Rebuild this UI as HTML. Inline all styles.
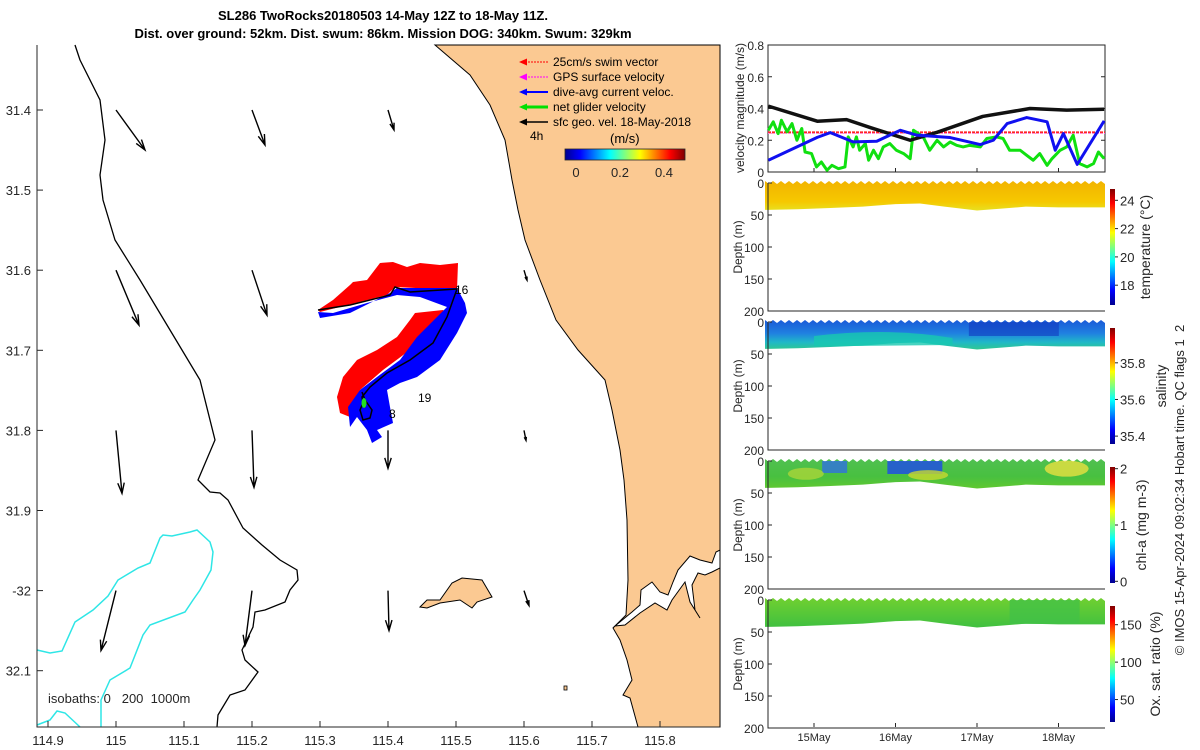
<!DOCTYPE html>
<html><head><meta charset="utf-8"><style>
body{margin:0;background:#fff;}
svg{display:block;font-family:"Liberation Sans","DejaVu Sans",sans-serif;}
</style></head><body>
<svg id="s" width="1200" height="750" viewBox="0 0 1200 750">
<defs>
<linearGradient id="jetV" x1="0" y1="0" x2="1" y2="0">
<stop offset="0" stop-color="#00008f"/><stop offset="0.125" stop-color="#0000ff"/><stop offset="0.375" stop-color="#00ffff"/><stop offset="0.625" stop-color="#ffff00"/><stop offset="0.875" stop-color="#ff0000"/><stop offset="1" stop-color="#800000"/></linearGradient>
<linearGradient id="jetH" x1="0" y1="1" x2="0" y2="0">
<stop offset="0" stop-color="#00008f"/><stop offset="0.125" stop-color="#0000ff"/><stop offset="0.375" stop-color="#00ffff"/><stop offset="0.625" stop-color="#ffff00"/><stop offset="0.875" stop-color="#ff0000"/><stop offset="1" stop-color="#800000"/></linearGradient>
<linearGradient id="gT" x1="0" y1="0" x2="0" y2="1"><stop offset="0" stop-color="#f2b400"/><stop offset="0.7" stop-color="#f6c800"/><stop offset="1" stop-color="#e8e020"/></linearGradient>
<linearGradient id="gS" x1="0" y1="0" x2="0" y2="1"><stop offset="0" stop-color="#1a5ad8"/><stop offset="0.45" stop-color="#2080e0"/><stop offset="0.75" stop-color="#20b8c8"/><stop offset="1" stop-color="#30c890"/></linearGradient>
<linearGradient id="gC" x1="0" y1="0" x2="0" y2="1"><stop offset="0" stop-color="#50c050"/><stop offset="0.6" stop-color="#48c040"/><stop offset="1" stop-color="#60c830"/></linearGradient>
<linearGradient id="gO" x1="0" y1="0" x2="0" y2="1"><stop offset="0" stop-color="#70d030"/><stop offset="1" stop-color="#40c040"/></linearGradient>
</defs>
<g id="map"></g>
<g id="right"></g>
<text x="383" y="20" text-anchor="middle" font-size="13" font-weight="bold">SL286 TwoRocks20180503 14-May 12Z to 18-May 11Z.</text>
<text x="383" y="38" text-anchor="middle" font-size="13" font-weight="bold">Dist. over ground: 52km. Dist. swum: 86km. Mission DOG: 340km. Swum: 329km</text>
</svg>
<script>
// ---- map data ----
const lonTicks=[114.9,115,115.1,115.2,115.3,115.4,115.5,115.6,115.7,115.8];
const latTicks=[31.4,31.5,31.6,31.7,31.8,31.9,32.0,32.1];
const latLabels=["31.4","31.5","31.6","31.7","31.8","31.9","-32","32.1"];
const arrowLon=[115.0,115.2,115.4,115.0,115.2,115.6,115.0,115.2,115.4,115.6,115.0,115.2,115.4,115.6];
const arrowLat=[31.4,31.4,31.4,31.6,31.6,31.6,31.8,31.8,31.8,31.8,32.0,32.0,32.0,32.0];
const arrowU=[0.145,0.065,0.03,0.115,0.075,0.015,0.03,0.01,0,0.01,-0.075,-0.035,0.005,0.025];
const arrowV=[-0.2,-0.175,-0.1,-0.275,-0.225,-0.05,-0.315,-0.285,-0.19,-0.05,-0.3,-0.275,-0.2,-0.075];
// ---- velocity panel data ----
const velTicks=[0,0.2,0.4,0.6,0.8];
const dayTicks=[15,16,17,18];
const dayLabels=["15May","16May","17May","18May"];
const blackT=[14.44,15.04,15.40,15.69,16.18,16.51,17.07,17.65,18.10,18.56];
const blackV=[0.415,0.32,0.33,0.28,0.20,0.25,0.35,0.40,0.39,0.395];
const blueT=[14.44,15.04,15.20,15.48,15.77,16.06,16.26,16.67,17.04,17.20,17.37,17.61,17.86,17.96,18.06,18.23,18.56];
const blueV=[0.074,0.218,0.248,0.19,0.194,0.263,0.232,0.217,0.173,0.2,0.305,0.343,0.316,0.137,0.242,0.048,0.322];
const greenT=[14.44,14.50,14.56,14.60,14.67,14.73,14.79,14.85,14.89,14.97,15.03,15.09,15.16,15.22,15.30,15.38,15.42,15.48,15.52,15.56,15.63,15.67,15.73,15.79,15.85,15.93,16.01,16.10,16.18,16.22,16.34,16.42,16.51,16.59,16.67,16.75,16.83,16.91,17.04,17.12,17.24,17.32,17.40,17.53,17.61,17.69,17.77,17.86,17.92,18.02,18.10,18.18,18.26,18.35,18.43,18.49,18.56];
const greenV=[0.263,0.316,0.242,0.326,0.253,0.305,0.2,0.274,0.126,0.116,0.032,0.063,0.011,0.042,0.021,0.032,0.221,0.158,0.221,0.137,0.179,0.074,0.137,0.084,0.158,0.179,0.137,0.116,0.084,0.263,0.221,0.137,0.2,0.158,0.189,0.168,0.158,0.168,0.158,0.211,0.221,0.211,0.137,0.137,0.105,0.074,0.116,0.042,0.084,0.137,0.158,0.232,0.053,0.032,0.053,0.126,0.084];
const swimRef=[0.25];
// ---- section data ----
const depthTicks=[0,50,100,150,200];
const mldT=[14.44,14.8,15.2,15.6,16.0,16.3,16.6,17.0,17.3,17.6,18.0,18.56];
const mldD=[42,41,39,37,33,32,37,43,40,37,38,38];
const tempTicks=[18,20,22,24];
const salTicks=[35.4,35.6,35.8];
const chlTicks=[0,1,2];
const oxTicks=[50,100,150];

const NS="http://www.w3.org/2000/svg";
function mk(p,tag,at,txt){const e=document.createElementNS(NS,tag);for(const k in at)e.setAttribute(k,at[k]);if(txt!==undefined)e.textContent=txt;p.appendChild(e);return e;}
const map=document.getElementById('map'), R=document.getElementById('right');
const X=lon=>116+(lon-115)*680, Y=lat=>110+(lat-31.4)*801;
const pts=a=>a.map(p=>p.join(',')).join(' ');

// land
let e=mk(map,'polygon',{points:pts([[435,45],[470,75],[490,105],[505,140],[512,180],[518,210],[525,240],[540,280],[556,320],[578,350],[605,380],[612,410],[620,450],[624,480],[627,520],[628,580],[626,615],[613,628],[620,640],[627,660],[632,680],[623,695],[630,698],[638,727],[720,727],[720,45]]),fill:'#fbc992',stroke:'#000','stroke-width':1});

e=mk(map,'polygon',{points:pts([[615,626],[632,612],[640,605],[641,590],[652,582],[660,592],[668,595],[673,582],[678,570],[690,556],[700,560],[712,563],[716,552],[720,550],[720,568],[712,572],[705,575],[698,573],[692,585],[695,610],[700,618],[690,602],[685,582],[672,600],[667,610],[655,603],[640,613],[625,625]]),fill:'#fff',stroke:'#000','stroke-width':1});

e=mk(map,'polygon',{points:pts([[420,607],[427,600],[440,600],[452,583],[462,578],[482,580],[492,597],[477,602],[472,608],[460,600],[440,603],[427,608]]),fill:'#fbc992',stroke:'#000','stroke-width':1});

e=mk(map,'rect',{x:564,y:686,width:3,height:4,fill:'#fbc992',stroke:'#000','stroke-width':0.8});

// isobaths
e=mk(map,'polyline',{points:pts([[75,45],[80,60],[100,100],[105,140],[100,175],[103,200],[115,240],[140,280],[170,330],[200,380],[215,440],[198,480],[210,492],[220,493],[228,500],[243,528],[262,545],[280,560],[297,570],[298,580],[290,590],[285,602],[265,610],[255,612],[253,627],[242,650],[245,660],[258,672],[245,690],[230,695],[218,715],[217,727]]),fill:'none',stroke:'#000','stroke-width':1.3});

e=mk(map,'polyline',{points:pts([[37,650],[50,653],[62,651],[75,622],[93,610],[108,596],[118,580],[138,568],[150,563],[160,538],[163,535],[172,536],[190,532],[197,530],[210,542],[213,552],[211,570],[200,590],[193,600],[185,612],[150,625],[143,635],[130,668],[110,680],[101,700],[101,727]]),fill:'none',stroke:'#2ee6e6','stroke-width':1.5});

e=mk(map,'polyline',{points:pts([[37,725],[50,720],[57,711],[65,713],[80,727]]),fill:'none',stroke:'#2ee6e6','stroke-width':1.5});

// glider swath
e=mk(map,'polygon',{points:pts([[318,310],[333,300],[350,285],[353,282],[367,280],[380,263],[393,262],[407,267],[420,263],[440,265],[458,263],[457,290],[395,287],[387,295],[320,312]]),fill:'#ff0000'});

e=mk(map,'polygon',{points:pts([[443,310],[415,313],[410,320],[397,337],[377,350],[357,360],[343,377],[337,397],[340,413],[350,417],[360,390],[383,370],[410,350],[433,327],[447,313]]),fill:'#ff0000'});

e=mk(map,'polygon',{points:pts([[318,312],[320,318],[350,313],[390,293],[397,288],[457,288],[465,303],[467,313],[457,333],[440,360],[417,377],[400,383],[387,390],[390,407],[393,423],[377,430],[382,437],[372,443],[367,430],[357,417],[350,427],[348,407],[360,390],[377,377],[400,360],[417,337],[437,317],[447,307],[420,297],[397,295],[367,303],[333,313]]),fill:'#0000ff'});

e=mk(map,'polyline',{points:pts([[318,310],[350,305],[390,295],[395,287],[410,292],[457,289],[447,317],[433,343],[410,360],[387,373],[370,387],[362,397],[363,403],[360,410],[363,420],[370,418],[372,410],[365,400],[362,392]]),fill:'none',stroke:'#000','stroke-width':1.5});

e=mk(map,'ellipse',{cx:364,cy:403,rx:2.5,ry:5,fill:'#20e020'});

[["16",455,294],["19",418,402],["8",389,418]].forEach(l=>{const t=mk(map,'text',{x:l[1],y:l[2],'font-size':12},l[0]);
});
// geo velocity arrows
const S=200;
for(let i=0;i<arrowLon.length;i++){
 const x0=X(arrowLon[i]),y0=Y(arrowLat[i]),x1=x0+arrowU[i]*S,y1=y0-arrowV[i]*S;
 const g=mk(map,'g',{});
 
 
 const a=Math.atan2(y1-y0,x1-x0),h=Math.min(11,Math.hypot(x1-x0,y1-y0)*0.35);
 mk(g,'path',{d:`M${x0},${y0} L${x1},${y1} M${x1-h*Math.cos(a-0.3)},${y1-h*Math.sin(a-0.3)} L${x1},${y1} L${x1-h*Math.cos(a+0.3)},${y1-h*Math.sin(a+0.3)}`,fill:'none',stroke:'#000','stroke-width':1.4});
}
// map axes
e=mk(map,'path',{d:'M37,45 V727 H720',fill:'none',stroke:'#262626','stroke-width':1});

lonTicks.forEach(l=>{const x=X(l);mk(map,'line',{x1:x,y1:727,x2:x,y2:721,stroke:'#262626'});
 const t=mk(map,'text',{x:x,y:745,'text-anchor':'middle','font-size':13,fill:'#262626'},String(l));
 });
latTicks.forEach((l,i)=>{const y=Y(l);mk(map,'line',{x1:37,y1:y,x2:43,y2:y,stroke:'#262626'});
 const t=mk(map,'text',{x:31,y:y+5,'text-anchor':'end','font-size':13,fill:'#262626'},latLabels[i]);
 });
e=mk(map,'text',{x:48,y:703,'font-size':13,fill:'#262626'},'isobaths: 0\u00a0\u00a0\u00a0200\u00a0\u00a01000m');

// legend
const leg=[["25cm/s swim vector","#ff0000",1,true],["GPS surface velocity","#ff00ff",1,true],["dive-avg current veloc.","#0000ff",2,false],["net glider velocity","#00e000",3,false],["sfc geo. vel. 18-May-2018","#000",1.5,false]];
leg.forEach((l,i)=>{const y=62+i*15;const g=mk(map,'g',{});
 
 mk(g,'line',{x1:522,y1:y,x2:548,y2:y,stroke:l[1],'stroke-width':l[2],'stroke-dasharray':l[3]?'2,1':'none'});
 mk(g,'polygon',{points:pts([[519,y],[527,y-3.5],[527,y+3.5]]),fill:l[1]});
 mk(g,'text',{x:553,y:y+4,'font-size':12},l[0]);});
e=mk(map,'text',{x:530,y:140,'font-size':12},'4h');
e=mk(map,'text',{x:610,y:143,'font-size':13},'(m/s)');
e=mk(map,'rect',{x:565,y:149,width:120,height:11,fill:'url(#jetV)',stroke:'#262626','stroke-width':0.8});

[["0",576],["0.2",620],["0.4",664]].forEach(l=>{const t=mk(map,'text',{x:l[1],y:177,'text-anchor':'middle','font-size':13,fill:'#262626'},l[0]);
 });

// ---- right panels ----
const L=768,Rr=1105;
const TX=d=>814+(d-15)*81.5;
const VY=v=>172-v/0.8*127;
e=mk(R,'rect',{x:L,y:45,width:Rr-L,height:127,fill:'#fff',stroke:'#262626'});

velTicks.forEach(v=>{const y=VY(v);mk(R,'line',{x1:L,y1:y,x2:L+4,y2:y,stroke:'#262626'});mk(R,'line',{x1:Rr,y1:y,x2:Rr-4,y2:y,stroke:'#262626'});
 const t=mk(R,'text',{x:764,y:y+5,'text-anchor':'end','font-size':12,fill:'#262626'},String(v));
 });
e=mk(R,'text',{transform:'translate(744,108) rotate(-90)','text-anchor':'middle','font-size':12,fill:'#262626'},'velocity magnitude (m/s)');

function series(T,V,col,w,name){const p=mk(R,'polyline',{points:T.map((t,i)=>TX(t)+','+VY(V[i])).join(' '),fill:'none',stroke:col,'stroke-width':w,'stroke-linejoin':'round'});
 }
e=mk(R,'line',{x1:L,x2:Rr,y1:VY(swimRef[0]),y2:VY(swimRef[0]),stroke:'#ff2020','stroke-width':2,'stroke-dasharray':'3,1'});

e=mk(R,'line',{x1:L,x2:Rr,y1:VY(swimRef[0])+1,y2:VY(swimRef[0])+1,stroke:'#ff60ff','stroke-width':1,'stroke-dasharray':'1,2'});

series(greenT,greenV,'#10e010',3,'net-glider-speed-line');
series(blackT,blackV,'#111',3.5,'geo-velocity-line');
series(blueT,blueV,'#1010f0',3,'current-speed-line');

const panels=[{top:183,fill:'url(#gT)',name:'temperature',ticks:tempTicks,lo:16.6,hi:24.8,label:'temperature (°C)',lx:1150},
 {top:322,fill:'url(#gS)',name:'salinity',ticks:salTicks,lo:35.357,hi:35.99,label:'salinity',lx:1166},
 {top:461,fill:'url(#gC)',name:'chlorophyll',ticks:chlTicks,lo:-0.03,hi:2.03,label:'chl-a (mg m-3)',lx:1146},
 {top:600,fill:'url(#gO)',name:'oxygen',ticks:oxTicks,lo:20,hi:175,label:'Ox. sat. ratio (%)',lx:1160}];
panels.forEach((P,pi)=>{
 const DY=d=>P.top+d/200*128, bot=P.top+128;
 const g=mk(R,'g',{});
 let top=[];for(let x=765;x<=1105;x+=8){top.push([x,P.top-2],[x+4,P.top+1]);}
 const bottom=mldT.slice().reverse().map((t,i)=>[TX(t),DY(mldD[mldD.length-1-i])]);
 const poly=mk(g,'polygon',{points:pts(top.concat([[1105,DY(mldD[mldD.length-1])]]).concat(bottom).concat([[765,DY(mldD[0])]])),fill:P.fill});
 
 if(pi==1){mk(g,'path',{d:`M${TX(15.0)},${DY(22)} Q${TX(15.9)},${DY(8)} ${TX(16.7)},${DY(25)} L${TX(16.7)},${DY(36)} L${TX(15.0)},${DY(38)} Z`,fill:'#18c8b0',opacity:0.8});
  mk(g,'rect',{x:TX(16.9),y:P.top,width:90,height:14,fill:'#1038c0',opacity:0.6});}
 if(pi==2){mk(g,'rect',{x:TX(15.1),y:P.top,width:25,height:12,fill:'#3070e0',opacity:0.8});
  mk(g,'rect',{x:TX(15.9),y:P.top,width:55,height:13,fill:'#2050e0',opacity:0.85});
  mk(g,'ellipse',{cx:TX(18.1),cy:DY(12),rx:22,ry:8,fill:'#e8e040',opacity:0.8});
  mk(g,'ellipse',{cx:TX(16.4),cy:DY(22),rx:20,ry:5,fill:'#c8d830',opacity:0.8});
  mk(g,'ellipse',{cx:TX(14.9),cy:DY(20),rx:18,ry:6,fill:'#b8d838',opacity:0.7});}
 if(pi==3){mk(g,'rect',{x:TX(17.4),y:P.top,width:70,height:24,fill:'#40c048',opacity:0.7});}
 mk(g,'path',{d:`M${L},${P.top} V${bot} H${Rr}`,fill:'none',stroke:'#262626'});
 depthTicks.forEach(d=>{const y=DY(d);mk(g,'line',{x1:L,y1:y,x2:L+4,y2:y,stroke:'#262626'});
  const t=mk(g,'text',{x:764,y:y+5,'text-anchor':'end','font-size':12,fill:'#262626'},String(d));
  });
 const yt=mk(g,'text',{transform:`translate(742,${P.top+64}) rotate(-90)`,'text-anchor':'middle','font-size':12,fill:'#262626'},'Depth (m)');
 
 const cb=mk(g,'rect',{x:1110,y:P.top+6,width:5,height:116,fill:'url(#jetH)'});
 
 P.ticks.forEach(v=>{const y=P.top+122-(v-P.lo)/(P.hi-P.lo)*116;mk(g,'line',{x1:1115,y1:y,x2:1118,y2:y,stroke:'#262626'});
  const t=mk(g,'text',{x:1120,y:y+5,'font-size':13,fill:'#262626'},String(v));
  });
 const lt=mk(g,'text',{transform:`translate(${P.lx},${P.top+64}) rotate(-90)`,'text-anchor':'middle','font-size':14,fill:'#262626'},P.label);
 
});
dayTicks.forEach((d,i)=>{const x=TX(d);mk(R,'line',{x1:x,y1:727,x2:x,y2:723,stroke:'#262626'});mk(R,'line',{x1:x,y1:172,x2:x,y2:168,stroke:'#262626'});
 const t=mk(R,'text',{x:x,y:741,'text-anchor':'middle','font-size':11,fill:'#262626'},dayLabels[i]);
 });
e=mk(R,'text',{transform:'translate(1184,490) rotate(-90)','text-anchor':'middle','font-size':13,fill:'#262626'},'© IMOS 15-Apr-2024 09:02:34 Hobart time. QC flags 1\u00a0\u00a02');

</script>
</body></html>
